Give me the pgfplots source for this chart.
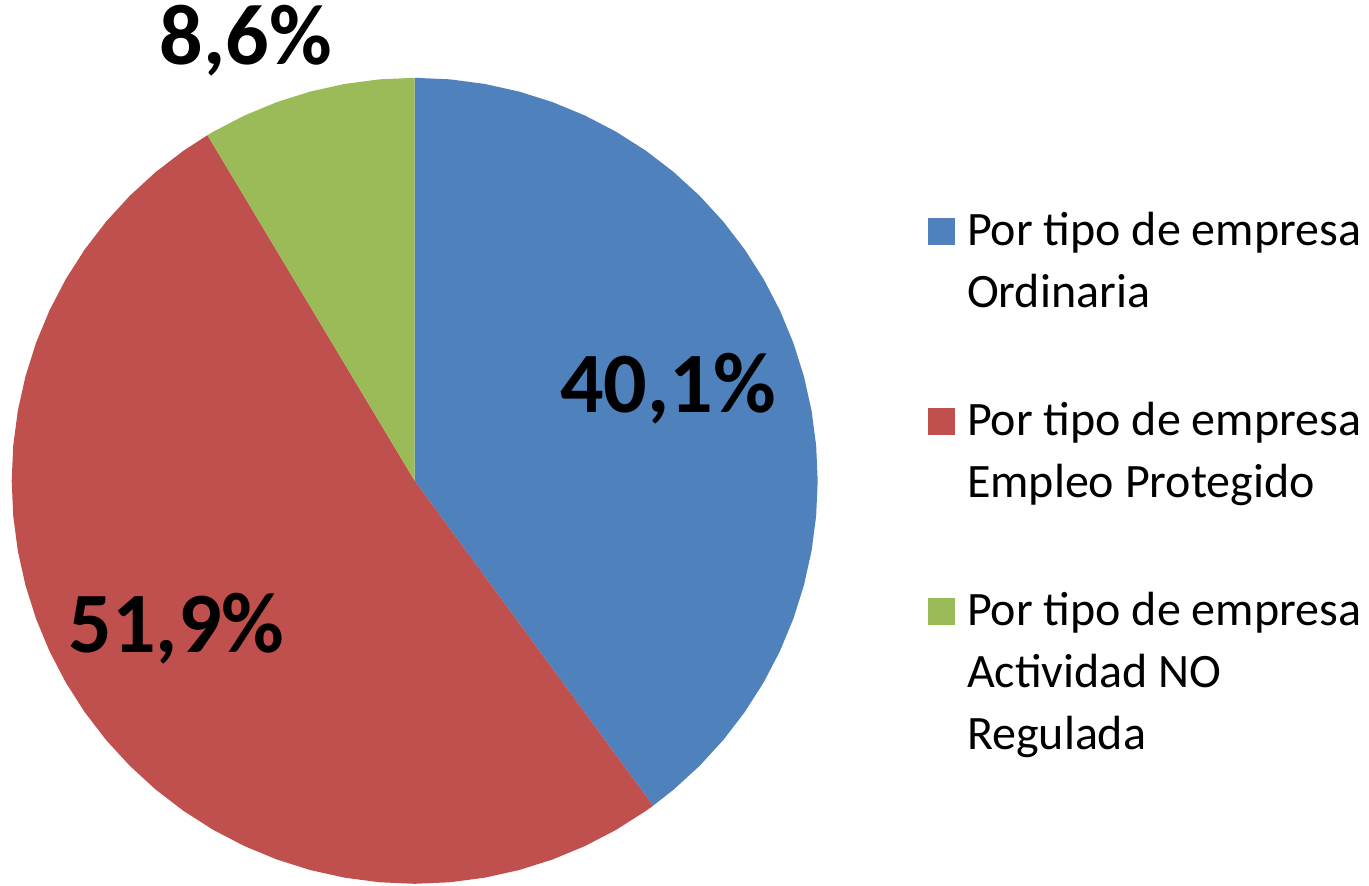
\documentclass[border=0pt]{standalone}
\usepackage{fontspec}
\setmainfont{Carlito}
\usepackage{pgfplots}
\pgfplotsset{compat=1.18}
\usepgfplotslibrary{polar}
\definecolor{pblue}{HTML}{4F81BD}
\definecolor{pred}{HTML}{C0504D}
\definecolor{pgreen}{HTML}{9BBB59}
\newcommand{\ls}{\rule{0pt}{29.5pt}}
\newcommand{\gap}{\rule{0pt}{31.5pt}}
\begin{document}
\begin{tikzpicture}
\useasboundingbox (-207.35pt,-202.1pt) rectangle (477.15pt,240.4pt);
\begin{axis}[
  at={(0pt,0pt)}, anchor=origin,
  scale only axis, width=403pt, height=403pt,
  xmin=-1, xmax=1, ymin=-1, ymax=1,
  hide axis, clip=false,
  data cs=polar,
  legend cell align=left,
  legend style={draw=none, fill=none, at={(1.1369,0.8653)}, anchor=north west,
    inner sep=0pt, outer sep=0pt, row sep=0pt, column sep=6pt,
    font=\fontsize{24}{29.5}\selectfont,
    cells={anchor=base west}, nodes={inner sep=0pt, outer sep=0pt}},
  legend image code/.code={\fill[#1] (0pt,0pt) rectangle (13.5pt,13.5pt);},
]
% Ordinaria 40.1%
\addplot[fill=pblue, draw=none] coordinates {
(0,0) (90,1) (85,1) (80,1) (75,1) (70,1) (65,1) (60,1) (55,1) (50,1) (45,1)
(40,1) (35,1) (30,1) (25,1) (20,1) (15,1) (10,1) (5,1) (0,1) (-5,1) (-10,1)
(-15,1) (-20,1) (-25,1) (-30,1) (-35,1) (-40,1) (-45,1) (-50,1) (-53.73,1)
} -- cycle;
\addlegendentry{\ls Por tipo de empresa}
\addlegendimage{empty legend}\addlegendentry{\ls Ordinaria}
\addlegendimage{empty legend}\addlegendentry{\gap}
% Empleo Protegido 51.9%
\addplot[fill=pred, draw=none] coordinates {
(0,0) (-53.73,1) (-55,1) (-60,1) (-65,1) (-70,1) (-75,1) (-80,1) (-85,1) (-90,1)
(-95,1) (-100,1) (-105,1) (-110,1) (-115,1) (-120,1) (-125,1) (-130,1) (-135,1)
(-140,1) (-145,1) (-150,1) (-155,1) (-160,1) (-165,1) (-170,1) (-175,1) (-180,1)
(-185,1) (-190,1) (-195,1) (-200,1) (-205,1) (-210,1) (-215,1) (-220,1) (-225,1)
(-230,1) (-235,1) (-239.05,1)
} -- cycle;
\addlegendentry{\ls Por tipo de empresa}
\addlegendimage{empty legend}\addlegendentry{\ls Empleo Protegido}
\addlegendimage{empty legend}\addlegendentry{\gap}
% Actividad NO Regulada 8.6%
\addplot[fill=pgreen, draw=none] coordinates {
(0,0) (120.95,1) (120,1) (115,1) (110,1) (105,1) (100,1) (95,1) (90,1)
} -- cycle;
\addlegendentry{\ls Por tipo de empresa}
\addlegendimage{empty legend}\addlegendentry{\ls Actividad NO}
\addlegendimage{empty legend}\addlegendentry{\ls Regulada}
\node[font=\fontsize{43}{52}\bfseries\selectfont, anchor=base, inner sep=0pt] at (axis description cs:0.81425,0.58535) {40,1\%};
\node[font=\fontsize{43}{52}\bfseries\selectfont, anchor=base, inner sep=0pt] at (axis description cs:0.20445,0.2876) {51,9\%};
\node[font=\fontsize{43}{52}\bfseries\selectfont, anchor=base, inner sep=0pt] at (axis description cs:0.2907,1.0159) {8,6\%};
\end{axis}
\end{tikzpicture}
\end{document}
